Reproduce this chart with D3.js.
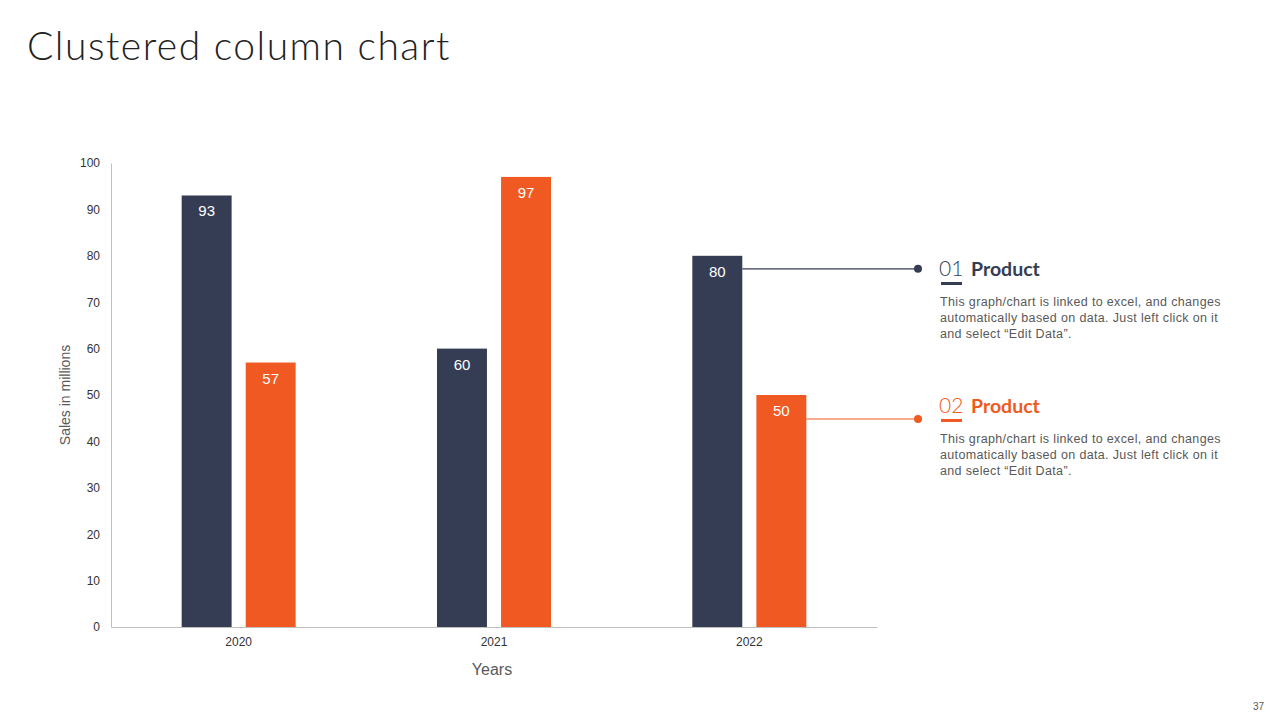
<!DOCTYPE html>
<html><head><meta charset="utf-8">
<script src="https://cdn.jsdelivr.net/npm/d3@7"></script>
<style>body{margin:0;background:#fff}svg{display:block}</style>
</head><body>
<svg id="c" width="1280" height="720"></svg>
<script>
const categories = ["2020","2021","2022"];
const seriesNames = ["Product 01","Product 02"];
const product1 = [93,60,80];
const product2 = [57,97,50];
const yTicks = [0,10,20,30,40,50,60,70,80,90,100];
const colors = ["#353d54","#f05a22"];
const desc = ["This graph/chart is linked to excel, and changes","automatically based on data. Just left click on it","and select \u201cEdit Data\u201d."];

const svg = d3.select("#c");
const font = "Liberation Sans, Arial, sans-serif";
svg.append("text").attr("x",27).attr("y",60).attr("font-family","Lato, sans-serif").attr("font-weight",300)
  .attr("font-size",39).attr("letter-spacing",1.5).attr("fill","#222").text("Clustered column chart");

const x0 = d3.scaleBand().domain(categories).range([111,877]);
const x1 = d3.scaleBand().domain([0,1]).range([0,114]).paddingInner(0.22);
const y = d3.scaleLinear().domain([0,100]).range([627,163]);

const yAxis = svg.append("g").attr("transform","translate(111,0)").call(d3.axisLeft(y).tickValues(yTicks).tickSize(0).tickPadding(11));
yAxis.select(".domain").attr("stroke","#bfbfbf");
yAxis.selectAll("text").attr("font-family",font).attr("font-size",12).attr("fill","#333");
const xAxis = svg.append("g").attr("transform","translate(0,627)").call(d3.axisBottom(x0).tickSize(0).tickPadding(10));
xAxis.select(".domain").attr("stroke","#bfbfbf");
xAxis.selectAll("text").attr("font-family",font).attr("font-size",12).attr("fill","#333");

const data = categories.map((c,i)=>({c, v:[product1[i],product2[i]]}));
const g = svg.append("g");
data.forEach(d=>{
  d.v.forEach((v,k)=>{
    const bx = x0(d.c)+x0.bandwidth()/2-57+x1(k);
    g.append("rect").attr("x",bx).attr("y",y(v)).attr("width",x1.bandwidth()).attr("height",y(0)-y(v)).attr("fill",colors[k]);
    g.append("text").attr("x",bx+x1.bandwidth()/2).attr("y",y(v)+21).attr("text-anchor","middle")
      .attr("font-family",font).attr("font-size",15).attr("fill","#fff").text(v);
  });
});

svg.append("text").attr("transform","translate(70,395) rotate(-90)").attr("text-anchor","middle")
  .attr("font-family",font).attr("font-size",14).attr("fill","#595959").text("Sales in millions");
svg.append("text").attr("x",492).attr("y",675).attr("text-anchor","middle")
  .attr("font-family",font).attr("font-size",16).attr("fill","#595959").text("Years");

// callouts from 2022 bars
const last = categories.length-1;
const lineY = [y(product1[last])+13, y(product2[last])+24];
const blockY = [269, 406];
[0,1].forEach(k=>{
  const bx = x0(categories[last])+x0.bandwidth()/2-57+x1(k)+x1.bandwidth();
  const ly = lineY[k];
  svg.append("line").attr("x1",bx).attr("x2",918).attr("y1",ly).attr("y2",ly).attr("stroke",colors[k]).attr("stroke-width",1.2);
  svg.append("circle").attr("cx",918).attr("cy",ly).attr("r",4).attr("fill",colors[k]);
  const ty = blockY[k];
  svg.append("text").attr("x",939).attr("y",ty+7).attr("font-family","Lato, sans-serif").attr("font-weight",300)
    .attr("font-size",21).attr("fill",k===0?"#353d54":"#f05a22").text(k===0?"01":"02");
  svg.append("text").attr("x",971).attr("y",ty+7).attr("font-family","Lato, sans-serif").attr("font-weight",700)
    .attr("font-size",19.5).attr("fill",k===0?"#353d54":"#f05a22").text("Product");
  svg.append("rect").attr("x",941).attr("y",ty+13).attr("width",21).attr("height",3).attr("fill",colors[k]);
  desc.forEach((t,i)=>{
    svg.append("text").attr("x",940).attr("y",ty+37+i*16).attr("font-family",font).attr("font-size",12.5)
      .attr("letter-spacing",0.35).attr("fill","#595959").text(t);
  });
});
svg.append("text").attr("x",1264).attr("y",710).attr("text-anchor","end").attr("font-family",font).attr("font-size",10).attr("fill","#595959").text("37");
</script>
</body></html>
